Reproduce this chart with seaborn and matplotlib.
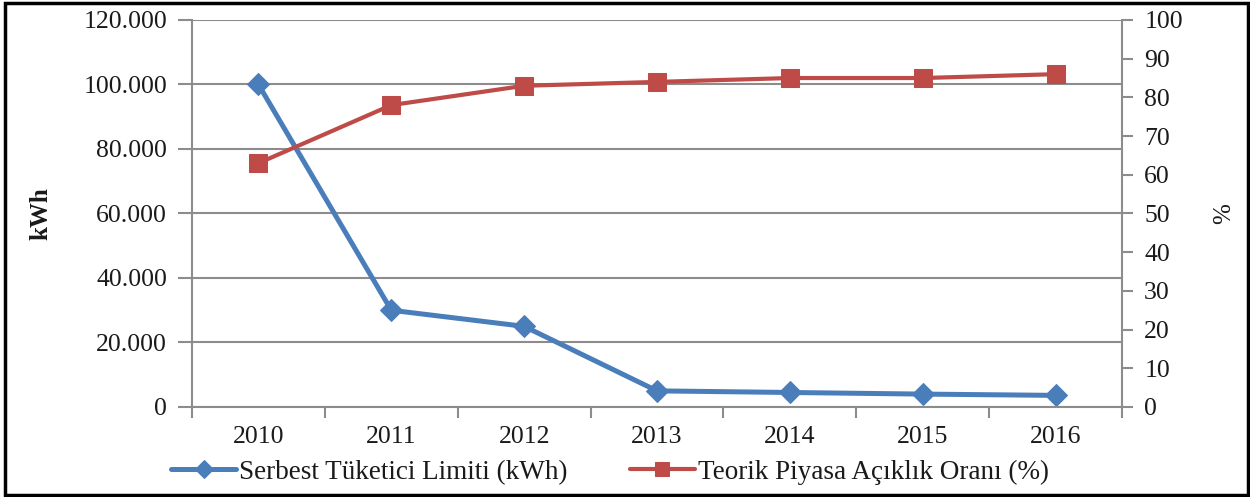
import numpy as np
import pandas as pd
import seaborn as sns
import matplotlib.pyplot as plt
from matplotlib.patches import Rectangle
from matplotlib.ticker import FuncFormatter, MultipleLocator, FixedLocator

# Values
years = ['2010', '2011', '2012', '2013', '2014', '2015', '2016']
limit_kwh = [100000, 30000, 25000, 5000, 4500, 4000, 3600]
openness_pct = [63, 78, 83, 84, 85, 85, 86]

blue_label = 'Serbest Tüketici Limiti (kWh)'
red_label = 'Teorik Piyasa Açıklık Oranı (%)'

df = pd.DataFrame({'Yil': years, 'Limit': limit_kwh, 'Oran': openness_pct})

sns.set_style('white')
plt.rcParams['font.family'] = ['Liberation Serif', 'DejaVu Serif']

blue = '#4A7EBB'
red = '#BE4B48'
grid_c = '#8C8C8C'
txt_c = '#1a1a1a'

fig = plt.figure(figsize=(12.5, 4.97), dpi=100)
ax = fig.add_axes([0.1536, 0.1811, 0.744, 0.7787])
ax2 = ax.twinx()

sns.lineplot(data=df, x='Yil', y='Limit', ax=ax, color=blue, linewidth=3.6,
             marker='D', markersize=11, markeredgecolor=blue, label=blue_label,
             legend=False, sort=False)
sns.lineplot(data=df, x='Yil', y='Oran', ax=ax2, color=red, linewidth=3,
             marker='s', markersize=13, markeredgecolor=red, label=red_label,
             legend=False, sort=False)

ax.set_xlim(-0.5, len(years) - 0.5)
ax.set_ylim(0, 120000)
ax2.set_ylim(0, 100)
ax.yaxis.set_major_locator(MultipleLocator(20000))
ax2.yaxis.set_major_locator(MultipleLocator(10))
ax.yaxis.set_major_formatter(FuncFormatter(lambda v, p: '0' if v == 0 else f'{int(v):,}'.replace(',', '.')))

# category boundary ticks on x (Excel style)
ax.xaxis.set_minor_locator(FixedLocator(np.arange(-0.5, len(years), 1.0)))
ax.tick_params(axis='x', which='major', length=0, pad=14, labelsize=18.5, colors=txt_c)
ax.tick_params(axis='x', which='minor', length=8, width=1.5, color=grid_c, direction='out', bottom=True)
ax.tick_params(axis='y', length=10, width=1.5, color=grid_c, direction='out', pad=8, labelsize=18.5, labelcolor=txt_c, left=True)
ax2.tick_params(axis='y', length=8, width=1.5, color=grid_c, direction='out', pad=8, labelsize=18.5, labelcolor=txt_c, right=True)

ax.grid(axis='y', color=grid_c, linewidth=1.5)
ax.set_axisbelow(True)

for a in (ax, ax2):
    a.spines['top'].set_visible(False)
    for s in ('left', 'bottom', 'right'):
        a.spines[s].set_color(grid_c)
        a.spines[s].set_linewidth(1.5)
ax.spines['right'].set_visible(False)
ax2.spines['left'].set_visible(False)
ax2.spines['bottom'].set_visible(False)

ax.set_xlabel('')
ax.set_ylabel('kWh', fontsize=18, labelpad=22, color=txt_c, fontweight='bold')
ax2.set_ylabel('%', fontsize=18, labelpad=22, color=txt_c)

h1, l1 = ax.get_legend_handles_labels()
h2, l2 = ax2.get_legend_handles_labels()
leg = fig.legend(h1 + h2, l1 + l2, loc='center', bbox_to_anchor=(0.488, 0.05), ncol=2,
                 frameon=False, fontsize=19.5, handlelength=2.4, handletextpad=0.1,
                 columnspacing=2.3, markerscale=0.8)
for t in leg.get_texts():
    t.set_color(txt_c)

# outer frame
fig.patches.append(Rectangle((0.004, 0.004), 0.994, 0.99, transform=fig.transFigure,
                             fill=False, edgecolor='black', linewidth=2.5))

fig.savefig('out.png', dpi=100)
